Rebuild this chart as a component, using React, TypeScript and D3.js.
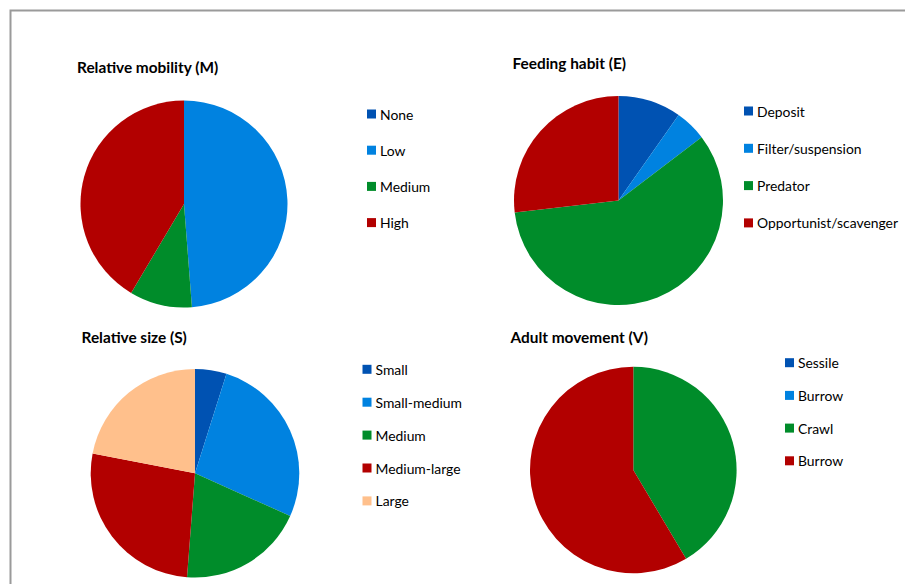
import React from "react";
import * as d3 from "d3";

// Trait categories and species counts per panel
const mobilityLabels = ["None", "Low", "Medium", "High"];
const mobilityCounts = [0, 20, 4, 17];

const feedingLabels = ["Deposit", "Filter/suspension", "Predator", "Opportunist/scavenger"];
const feedingCounts = [4, 2, 24, 11];

const sizeLabels = ["Small", "Small-medium", "Medium", "Medium-large", "Large"];
const sizeCounts = [2, 11, 8, 11, 9];

const movementLabels = ["Sessile", "Burrow", "Crawl", "Burrow"];
const movementCounts = [0, 0, 17, 24];

const palette = ["#0052b2", "#0082e0", "#008c2a", "#b20000", "#ffc08c"];

const FONT = "Lato, Carlito, Calibri, 'Open Sans', sans-serif";

type PanelProps = {
  title: string;
  titleX: number;
  titleY: number;
  labels: string[];
  counts: number[];
  cx: number;
  cy: number;
  r: number;
  legendX: number;
  legendY: number;
  legendStep: number;
};

function PiePanel(p: PanelProps) {
  const pie = d3.pie<number>().sort(null).value((d) => d);
  const arcs = pie(p.counts);
  const arcGen = d3.arc<d3.PieArcDatum<number>>().innerRadius(0).outerRadius(p.r);
  const color = d3.scaleOrdinal<number, string>().domain(d3.range(palette.length)).range(palette);
  return (
    <g>
      <text
        x={p.titleX}
        y={p.titleY}
        fontFamily={FONT}
        fontWeight={700}
        fontSize={15.4}
        fill="#000"
        dominantBaseline="central"
      >
        {p.title}
      </text>
      <g transform={`translate(${p.cx},${p.cy})`}>
        {arcs.map((a, i) =>
          a.endAngle > a.startAngle ? (
            <path key={i} d={arcGen(a) || ""} fill={color(i)} />
          ) : null
        )}
      </g>
      {p.labels.map((lab, i) => {
        const y = p.legendY + i * p.legendStep;
        return (
          <g key={i}>
            <rect x={p.legendX} y={y - 4.5} width={9} height={9} fill={color(i)} />
            <text
              x={p.legendX + 13}
              y={y}
              fontFamily={FONT}
              fontSize={13.9}
              fill="#000"
              dominantBaseline="central"
            >
              {lab}
            </text>
          </g>
        );
      })}
    </g>
  );
}

export default function App() {
  return (
    <svg
      width={905}
      height={584}
      style={{ position: "absolute", left: 0, top: 0, background: "#fff" }}
    >
      <rect x={0} y={0} width={905} height={584} fill="#fff" />
      <path d="M10.5,584 V10.5 H905" fill="none" stroke="#9a9a9a" strokeWidth={2} />
      <PiePanel
        title="Relative mobility (M)"
        titleX={77}
        titleY={67}
        labels={mobilityLabels}
        counts={mobilityCounts}
        cx={184}
        cy={204}
        r={103.5}
        legendX={367}
        legendY={114}
        legendStep={36.2}
      />
      <PiePanel
        title="Feeding habit (E)"
        titleX={512.5}
        titleY={63}
        labels={feedingLabels}
        counts={feedingCounts}
        cx={618.5}
        cy={200.5}
        r={104.5}
        legendX={744}
        legendY={111}
        legendStep={37.3}
      />
      <PiePanel
        title="Relative size (S)"
        titleX={81.5}
        titleY={336.5}
        labels={sizeLabels}
        counts={sizeCounts}
        cx={195}
        cy={473.3}
        r={104.3}
        legendX={362.5}
        legendY={369.3}
        legendStep={32.9}
      />
      <PiePanel
        title="Adult movement (V)"
        titleX={510.5}
        titleY={336.5}
        labels={movementLabels}
        counts={movementCounts}
        cx={633.3}
        cy={470}
        r={103.3}
        legendX={785}
        legendY={362.7}
        legendStep={32.7}
      />
    </svg>
  );
}
